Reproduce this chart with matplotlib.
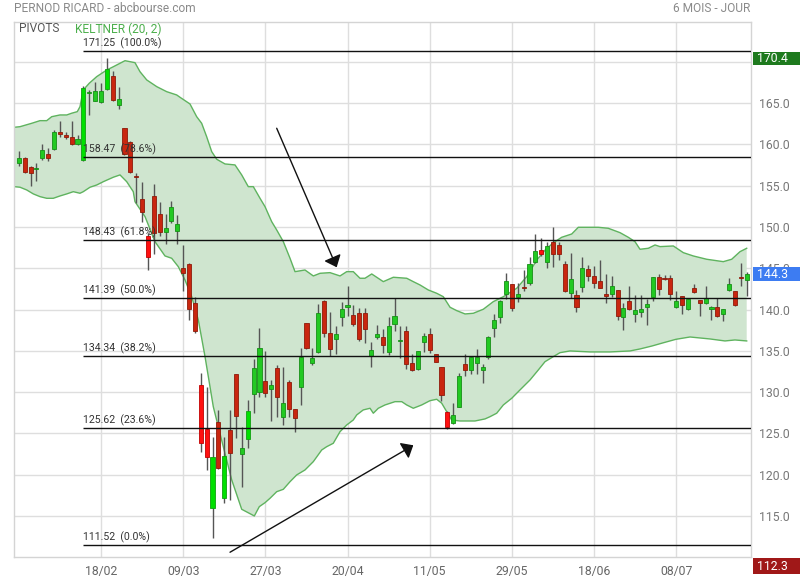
import matplotlib
matplotlib.use('Agg')
import matplotlib.pyplot as plt
from matplotlib.patches import Rectangle

plt.rcParams['font.family'] = ['Roboto', 'DejaVu Sans']

# ---------------- data ----------------
tick_pos = [14, 28, 42, 56, 70, 84, 98, 112]
tick_labels = ["18/02", "09/03", "27/03", "20/04", "11/05", "29/05", "18/06", "08/07"]
price_ticks = [115, 120, 125, 130, 135, 140, 145, 150, 155, 160, 165, 170]

opens = [157.7,158.4,157.3,157.0,158.4,158.8,159.4,161.5,161.1,160.9,
         160.0,158.1,166.2,165.3,165.1,166.7,168.3,164.8,162.0,160.3,
         156.2,153.35,148.9,153.75,151.55,149.35,150.75,149.55,145.0,145.5,
         140.75,130.85,125.55,116.0,126.35,117.15,125.4,132.15,122.5,124.3,
         129.75,130.05,131.35,130.35,132.9,127.05,131.2,127.95,130.6,138.35,
         133.5,134.85,141.05,137.15,136.4,139.15,140.3,139.35,139.55,139.55,
         134.4,136.65,136.7,134.9,138.2,136.2,137.4,133.5,132.75,136.05,
         137.05,134.6,133.0,127.65,126.3,128.25,133.4,132.65,133.5,132.65,
         134.2,137.75,139.15,141.9,143.05,141.5,142.7,143.2,145.75,147.2,
         145.7,148.15,147.8,145.5,142.05,141.75,142.7,144.9,144.05,143.45,
         141.9,141.85,142.35,139.05,141.05,139.45,139.75,140.25,141.55,143.9,
         143.8,143.8,140.3,141.7,140.05,142.6,141.15,140.75,140.05,140.35,
         139.45,142.35,142.3,144.0,143.6]
highs = [159.2,158.5,157.4,157.7,160.1,159.5,161.7,162.8,161.5,162.8,
         161.1,167.1,166.6,167.5,167.4,170.4,168.9,166.9,162.0,160.45,
         156.5,155.4,149.3,155.2,153.05,151.55,153.2,151.4,147.8,145.6,
         141.55,132.35,130.65,124.6,127.9,124.6,127.9,132.2,125.8,129.05,
         134.0,137.75,135.0,131.5,133.3,133.1,131.5,128.0,135.3,138.4,
         135.3,140.7,141.1,139.65,138.0,140.9,142.8,140.55,140.15,140.15,
         136.1,138.15,137.6,139.15,141.35,138.0,137.95,134.6,135.0,137.15,
         137.75,134.65,133.05,127.7,128.7,132.3,134.6,134.2,135.2,133.4,
         136.8,139.45,141.1,144.4,143.1,143.25,144.8,146.4,149.15,148.65,
         148.2,149.95,148.2,145.9,146.8,142.35,146.4,145.4,145.25,146.0,
         144.3,144.05,142.4,140.75,142.85,141.75,141.75,141.25,143.95,144.3,
         144.2,144.2,142.25,141.7,141.3,143.05,141.2,142.85,140.4,141.35,
         140.1,143.8,142.3,145.6,144.5]
lows = [157.4,156.5,155.0,155.6,158.1,158.0,159.3,160.9,160.6,159.9,
        159.9,158.0,163.6,165.2,165.0,166.6,165.3,164.3,158.7,156.5,
        152.9,150.65,144.8,146.75,148.85,147.95,150.45,147.95,142.2,138.75,
        137.15,122.7,120.6,112.3,120.7,116.6,116.9,124.5,118.5,123.2,
        127.5,129.4,129.4,126.45,127.05,126.05,127.05,125.2,128.45,135.2,
        133.3,134.8,136.7,134.4,134.6,138.05,139.25,137.95,136.2,135.9,
        133.1,136.45,134.7,134.5,137.35,134.1,132.75,132.6,132.7,134.9,
        134.8,133.6,128.95,125.6,126.15,128.2,131.9,132.2,132.2,131.15,
        134.0,136.7,138.35,141.25,139.85,140.95,142.3,143.0,145.6,146.5,
        145.05,145.1,146.0,142.15,141.35,139.75,142.15,143.4,142.6,142.6,
        140.75,141.5,138.75,137.55,139.95,138.55,139.05,138.15,141.05,141.75,
        143.55,141.15,140.2,139.45,139.95,141.95,139.25,140.7,138.75,139.05,
        138.6,142.3,140.45,142.9,141.7]
closes = [158.4,156.6,156.5,157.05,159.3,158.3,161.5,161.3,160.9,160.0,
          160.7,166.8,166.25,166.5,166.5,169.1,165.4,165.5,158.8,156.6,
          156.0,151.85,146.4,149.25,149.35,149.85,152.4,150.35,144.4,140.05,
          137.35,123.8,122.1,122.1,120.8,122.3,122.6,127.15,123.2,127.7,
          132.9,135.3,129.95,130.85,129.45,128.65,127.95,126.85,134.3,135.3,
          134.1,139.55,137.15,135.2,137.0,140.05,140.55,138.2,136.45,137.7,
          135.05,137.05,135.7,138.0,139.2,136.25,133.4,132.7,135.0,136.8,
          135.05,133.7,129.65,125.75,127.25,131.95,132.65,134.2,134.2,133.1,
          136.7,138.75,141.05,143.45,140.15,141.9,142.55,145.5,147.1,146.7,
          147.7,146.7,146.7,142.3,143.65,140.35,145.0,144.1,143.25,142.65,
          141.7,142.85,139.25,140.15,140.05,139.95,140.05,140.65,143.9,142.45,
          143.65,141.9,141.05,140.55,141.3,142.1,140.85,141.45,140.35,139.25,
          140.05,143.05,140.55,143.85,144.3]
strong_days = [11, 15, 22, 31, 32, 33, 35, 39, 73, 89]

band_up_x = [-0.77,0.2,2.19,3.61,4.75,5.6,7.0,8.16,9.0,9.96,10.42,10.98,12.0,13.27,14.97,16.1,
             18.09,19.79,20.64,21.79,23.49,25.19,26.9,27.46,29.16,30.3,31.15,32.0,32.86,33.71,
             35.12,36.83,37.97,39.09,39.95,41.09,41.94,43.08,43.93,45.06,46.2,47.05,48.75,50.17,
             51.31,53.01,54.72,55.86,56.98,58.12,58.97,60.12,62.09,63.8,66.08,67.2,68.34,69.76,
             71.19,72.31,73.46,74.6,76.01,77.42,79.13,80.83,82.54,84.82,86.52,88.23,89.93,91.34,
             92.48,94.19,95.31,97.02,98.72,100.42,102.42,103.83,104.97,105.82,107.24,108.38,
             109.23,111.5,113.2,114.9,117.18,120.01,121.44,122.86,124.0]
band_up_v = [162.07,162.14,162.55,162.87,162.87,163.35,163.56,163.56,163.77,163.96,164.56,166.59,
             167.4,168.2,169.0,169.4,170.13,169.89,168.8,167.8,166.99,166.38,165.98,165.7,164.89,
             163.35,162.55,160.93,159.12,158.2,157.63,157.51,156.3,154.88,154.88,153.47,152.46,
             150.64,149.64,148.22,146.21,144.59,144.79,144.07,144.39,144.47,144.07,144.59,144.59,
             143.79,143.79,144.31,143.38,143.91,143.79,143.38,142.98,142.37,141.97,141.56,140.28,
             139.87,139.47,139.55,140.04,140.96,141.56,142.58,143.98,146.0,147.42,148.22,148.75,
             149.15,149.96,149.96,149.96,149.84,149.31,148.75,148.22,147.3,147.42,147.82,147.62,
             147.7,146.89,146.49,146.09,145.8,146.09,147.01,147.42]
band_lo_x = [-0.77,0.2,1.34,2.47,3.61,4.75,5.87,7.0,8.16,9.28,10.42,10.98,12.13,13.27,14.39,16.1,
             17.24,18.38,19.5,19.79,21.5,23.2,24.9,26.04,27.17,28.31,29.45,30.58,31.72,33.13,
             34.83,36.27,37.97,40.12,40.97,41.94,42.79,43.93,45.06,46.2,47.34,48.75,50.17,51.6,
             52.45,53.57,54.72,55.86,56.98,57.56,58.68,59.83,60.39,61.24,62.38,64.09,65.23,66.08,
             67.2,68.63,70.05,71.19,72.04,72.89,73.75,75.16,77.71,79.42,80.27,81.41,82.54,83.97,
             85.38,87.09,88.5,89.64,91.05,92.19,93.9,97.31,100.71,104.12,105.82,107.87,109.7,
             111.95,114.34,117.75,120.3,122.0,124.0]
band_lo_v = [154.88,154.81,154.48,154.0,153.67,153.47,153.47,153.75,154.0,154.27,154.08,154.27,
             154.81,155.08,155.48,156.02,156.3,155.48,154.27,153.06,151.25,148.22,146.49,146.21,
             145.19,143.58,141.56,138.74,134.3,128.24,123.4,119.37,115.82,115.01,116.14,116.62,
             117.15,117.95,118.24,119.16,119.98,120.58,121.59,123.0,123.4,123.81,125.22,126.03,
             126.63,127.24,127.85,128.05,127.45,128.05,128.45,128.85,128.85,128.45,128.05,128.45,
             128.97,129.14,128.66,127.64,126.63,126.51,126.51,126.76,127.03,127.45,128.45,129.26,
             130.27,131.48,132.69,133.69,134.3,134.78,134.99,134.87,134.87,134.99,135.23,135.59,
             135.96,136.4,136.68,136.44,136.2,136.32,136.2]

fib_levels = [171.25, 158.47, 148.43, 141.39, 134.34, 125.62, 111.52]
fib_pcts = ["100.0%", "78.6%", "61.8%", "50.0%", "38.2%", "23.6%", "0.0%"]
fib_start = 11

arrow_down = ((43.93, 161.95), (54.15, 145.12))
arrow_up = ((35.98, 110.62), (67.2, 123.57))

high_label = 170.4
last_label = 144.3
low_label = 112.3

# ---------------- figure ----------------
W, H = 800, 580
fig = plt.figure(figsize=(W / 100, H / 100), dpi=100)
L, R, T, B = 14.3, 750.7, 21.7, 556.7
ax = fig.add_axes([L / W, 1 - B / H, (R - L) / W, (B - T) / H])
ax.set_xlim(-0.77, 124.68)
ax.set_ylim(110.08, 174.85)

for s in ax.spines.values():
    s.set_color('#d4d4d4')
    s.set_linewidth(1)

ax.set_yticks(price_ticks)
# the top tick label sits under the 170.4 price box in the reference, so it is left blank
ax.set_yticklabels([f"{v:.1f}" if v < high_label - 1 else "" for v in price_ticks])
ax.yaxis.tick_right()
ax.set_xticks(tick_pos)
ax.set_xticklabels(tick_labels)
ax.tick_params(axis='y', length=0, pad=6, labelsize=8.8, labelcolor='#777777')
ax.tick_params(axis='x', length=0, pad=6, labelsize=8.8, labelcolor='#666666')
ax.grid(True, color='#dedede', linewidth=1)
ax.set_axisbelow(True)

# Keltner band
poly_x = band_up_x + band_lo_x[::-1]
poly_y = band_up_v + band_lo_v[::-1]
ax.fill(poly_x, poly_y, color='#cfe5cf', zorder=1, linewidth=0)
ax.plot(band_up_x, band_up_v, color='#5fb35f', lw=1, zorder=2)
ax.plot(band_lo_x, band_lo_v, color='#5fb35f', lw=1, zorder=2)

# candles
idx = list(range(len(opens)))
ax.vlines(idx, lows, highs, color='#555555', lw=1, zorder=3)
for i, (o, h, l, c) in enumerate(zip(opens, highs, lows, closes)):
    up = c >= o
    strong = i in strong_days
    if up:
        fc, ec = ('#00e000', '#10a010') if strong else ('#22c922', '#168f16')
    else:
        fc, ec = ('#ff1010', '#c00000') if strong else ('#c9260f', '#8e1a0a')
    bot = min(o, c)
    hgt = max(abs(c - o), 0.12)
    ax.add_patch(Rectangle((i - 0.35, bot), 0.7, hgt, facecolor=fc, edgecolor=ec,
                           linewidth=0.6, zorder=4))

# pivots (Fibonacci levels)
ax.hlines(fib_levels, fib_start, 124.68, color='#111111', lw=1, zorder=5)
for lv, pc in zip(fib_levels, fib_pcts):
    ax.annotate(f"{lv:.2f}  ({pc})", (fib_start, lv), xytext=(0, 1.5),
                textcoords='offset points', fontsize=7.6, color='#333333',
                ha='left', va='bottom', zorder=6)

# arrows
for (p0, p1) in (arrow_down, arrow_up):
    ax.annotate('', xy=p1, xytext=p0,
                arrowprops=dict(arrowstyle='-|>,head_length=0.65,head_width=0.55',
                                color='#111111', lw=1, shrinkA=0, shrinkB=0,
                                mutation_scale=10), zorder=7)

# price boxes on the right axis
ytr = ax.get_yaxis_transform()
box_h = 1.62
for val, col in ((high_label, '#1e7a1e'), (last_label, '#3d7cf2')):
    ax.add_patch(Rectangle((1.0027, val - box_h / 2), 0.08, box_h, transform=ytr,
                           facecolor=col, edgecolor='none', clip_on=False, zorder=8))
    ax.text(1.0085, val, f"{val:.1f}", transform=ytr, color='white', fontsize=8.8,
            ha='left', va='center', clip_on=False, zorder=9)
fy = 1 - 566 / H
fig.patches.append(Rectangle((752.7 / W, fy - 8 / H), 60 / W, 16 / H, transform=fig.transFigure,
                             facecolor='#a01818', edgecolor='none', zorder=8))
fig.text(757.0 / W, fy, f"{low_label:.1f}", color='white', fontsize=8.8,
         ha='left', va='center', zorder=9)

# header & legend
fig.text(14 / W, 1 - 9 / H, "PERNOD RICARD - abcbourse.com", fontsize=8.6,
         color='#8a8a8a', ha='left', va='center')
fig.text(750 / W, 1 - 9 / H, "6 MOIS - JOUR", fontsize=8.6, color='#8a8a8a',
         ha='right', va='center')
fig.text(19 / W, 1 - 29 / H, "PIVOTS", fontsize=8.6, color='#555555', ha='left', va='center')
fig.text(75 / W, 1 - 29 / H, "KELTNER (20, 2)", fontsize=8.6, color='#4caf4c',
         ha='left', va='center')

fig.savefig('out.png', dpi=100)
